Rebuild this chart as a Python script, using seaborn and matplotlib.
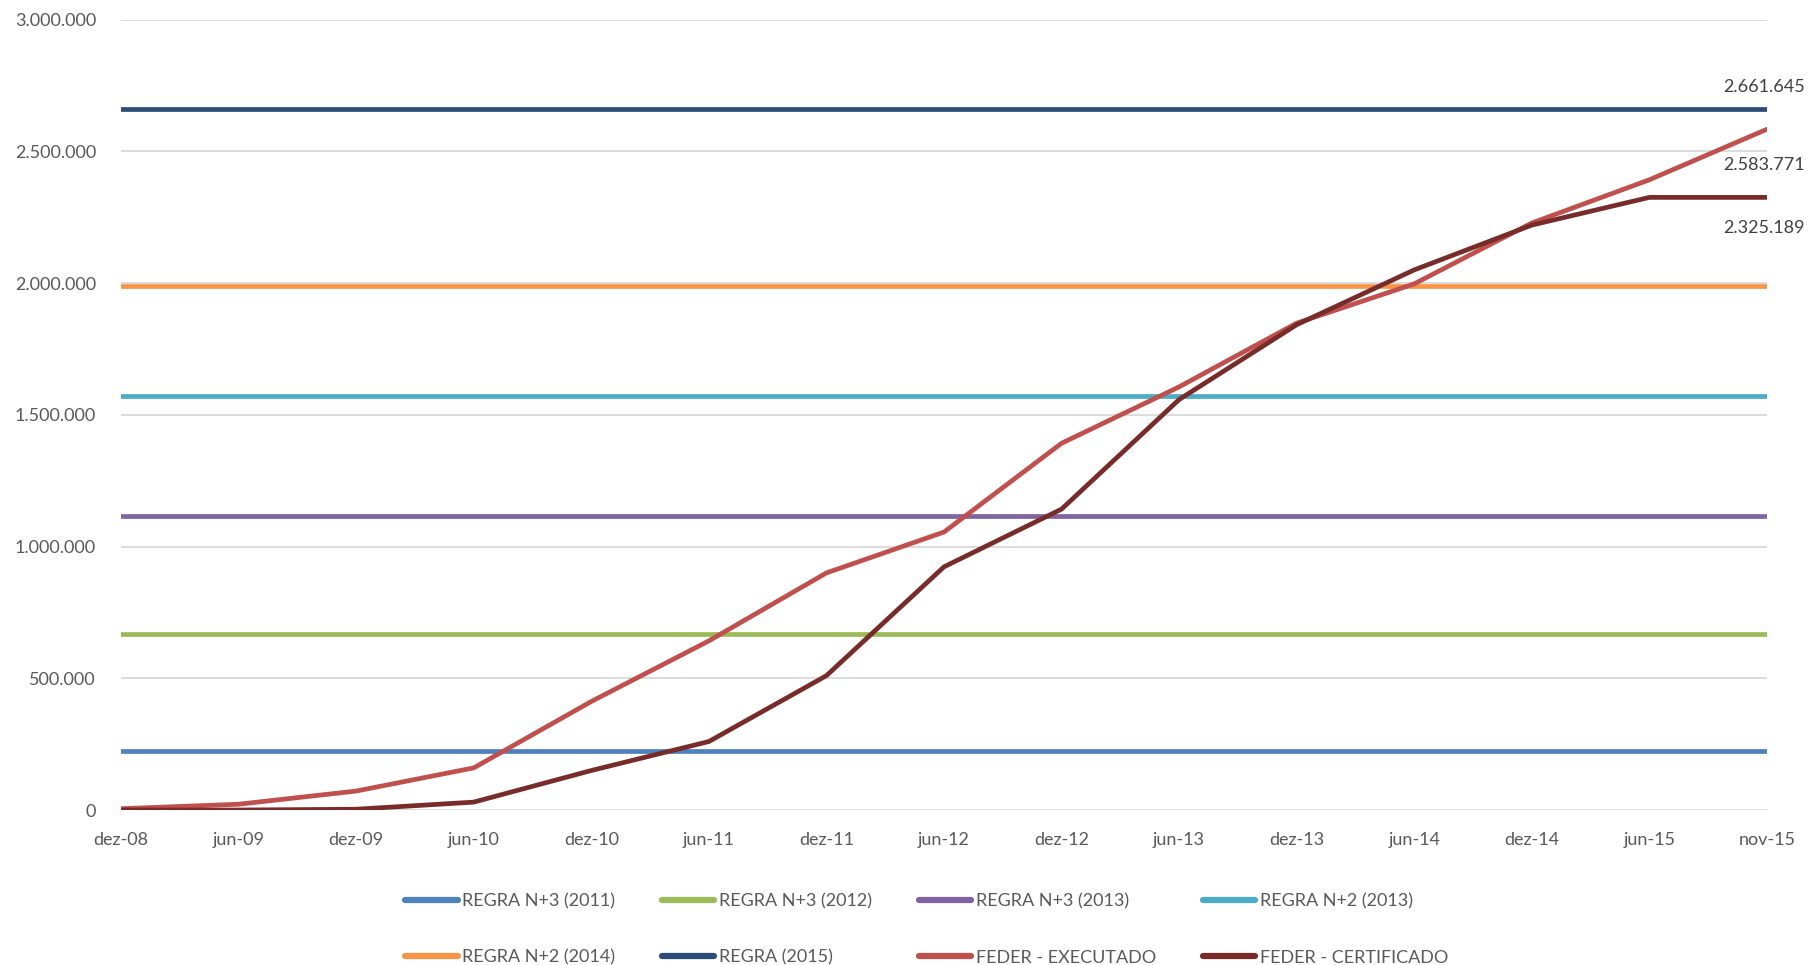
import matplotlib
matplotlib.use("Agg")
import matplotlib.pyplot as plt
import seaborn as sns
import numpy as np
import pandas as pd
from matplotlib.ticker import FuncFormatter, MultipleLocator

# ---------------- data ----------------
periods = ["dez-08", "jun-09", "dez-09", "jun-10", "dez-10", "jun-11", "dez-11",
           "jun-12", "dez-12", "jun-13", "dez-13", "jun-14", "dez-14", "jun-15", "nov-15"]

regra_n3_2011 = 224000
regra_n3_2012 = 668000
regra_n3_2013 = 1116000
regra_n2_2013 = 1572000
regra_n2_2014 = 1988000
regra_2015 = 2661645

feder_executado = [5000, 22000, 72000, 160000, 412000, 642000, 900000, 1055000,
                   1392000, 1606000, 1848000, 1997000, 2228000, 2392000, 2583771]
feder_certificado = [0, 0, 3000, 30000, 150000, 260000, 510000, 923000,
                     1142000, 1558000, 1842000, 2050000, 2220000, 2325189, 2325189]

series_names = ["REGRA N+3 (2011)", "REGRA N+3 (2012)", "REGRA N+3 (2013)",
                "REGRA N+2 (2013)", "REGRA N+2 (2014)", "REGRA (2015)",
                "FEDER - EXECUTADO", "FEDER - CERTIFICADO"]
series_colors = ["#4F81BD", "#9BBB59", "#8064A2", "#4BACC6",
                 "#F79646", "#2C4D75", "#C0504D", "#772C2A"]

# ---------------- build long table ----------------
n = len(periods)
xpos = list(range(n))
values = {
    "REGRA N+3 (2011)": [regra_n3_2011] * n,
    "REGRA N+3 (2012)": [regra_n3_2012] * n,
    "REGRA N+3 (2013)": [regra_n3_2013] * n,
    "REGRA N+2 (2013)": [regra_n2_2013] * n,
    "REGRA N+2 (2014)": [regra_n2_2014] * n,
    "REGRA (2015)": [regra_2015] * n,
    "FEDER - EXECUTADO": feder_executado,
    "FEDER - CERTIFICADO": feder_certificado,
}
rows = []
for name in series_names:
    for i, v in zip(xpos, values[name]):
        rows.append({"x": i, "valor": v, "serie": name})
df = pd.DataFrame(rows)

# ---------------- plot ----------------
sns.set_theme(style="white")
plt.rcParams["font.family"] = ["Lato", "DejaVu Sans"]

fig = plt.figure(figsize=(18.1, 9.65), dpi=100)
ax = fig.add_axes([0.0669, 0.1606, 0.9093, 0.8191])

ax.yaxis.grid(True, color="#D9D9D9", linewidth=1.3, zorder=0)
ax.set_axisbelow(True)

sns.lineplot(data=df, x="x", y="valor", hue="serie", hue_order=series_names,
             palette=dict(zip(series_names, series_colors)), linewidth=3.4,
             ax=ax, legend=True, estimator=None, sort=False)
for ln in ax.lines:
    ln.set_solid_capstyle("round")
    ln.set_solid_joinstyle("round")

ax.set_xlim(0, n - 1)
ax.set_ylim(0, 3000000)
ax.yaxis.set_major_locator(MultipleLocator(500000))
ax.yaxis.set_major_formatter(FuncFormatter(lambda v, p: f"{int(round(v)):,}".replace(",", ".")))
ax.set_xticks(xpos)
ax.set_xticklabels(periods)
ax.set_xlabel("")
ax.set_ylabel("")
for s in ax.spines.values():
    s.set_visible(False)
ax.tick_params(axis="both", length=0, labelsize=13, labelcolor="#595959")
ax.tick_params(axis="x", pad=16)
ax.tick_params(axis="y", pad=18)

# end labels
ax.annotate("2.661.645", xy=(n - 1, regra_2015), xytext=(-2, 16), textcoords="offset points",
            ha="center", va="center", fontsize=13, color="#404040", annotation_clip=False)
ax.annotate("2.583.771", xy=(n - 1, feder_executado[-1]), xytext=(-2, -26), textcoords="offset points",
            ha="center", va="center", fontsize=13, color="#404040", annotation_clip=False)
ax.annotate("2.325.189", xy=(n - 1, feder_certificado[-1]), xytext=(-2, -22), textcoords="offset points",
            ha="center", va="center", fontsize=13, color="#404040", annotation_clip=False)

# legend (row-major order like the original)
handles, labels = ax.get_legend_handles_labels()
ax.get_legend().remove()
order = [0, 4, 1, 5, 2, 6, 3, 7]
handles = [handles[i] for i in order]
labels = [labels[i] for i in order]
leg = fig.legend(handles, labels, loc="center", bbox_to_anchor=(0.512, 0.0370),
                 ncol=4, frameon=False, fontsize=13, handlelength=2.9, handletextpad=0.25,
                 columnspacing=2.6, labelspacing=2.25, borderaxespad=0)
for t in leg.get_texts():
    t.set_color("#595959")
for h in leg.legend_handles:
    h.set_linewidth(4.5)
    h.set_solid_capstyle("round")

fig.savefig("out.png", dpi=100)
